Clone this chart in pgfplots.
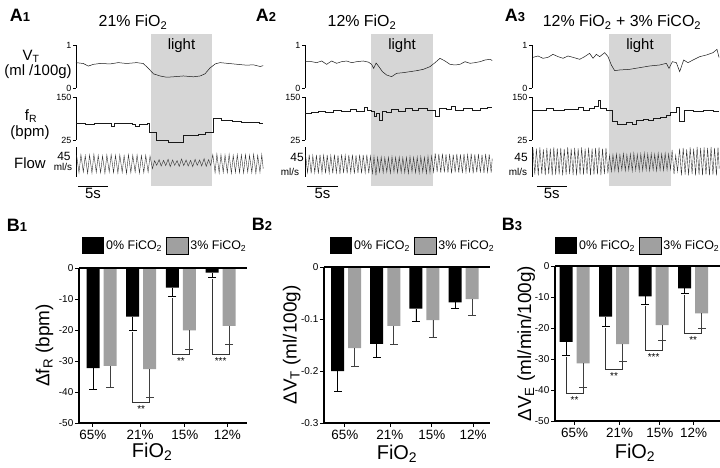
\documentclass[border=0pt]{standalone}
\usepackage{fontspec}
\setmainfont{Liberation Sans}
\usepackage{pgfplots}
\pgfplotsset{compat=1.18}
\definecolor{barg}{RGB}{160,160,160}
\definecolor{lightg}{RGB}{214,214,214}
\newcommand{\fs}[1]{\fontsize{#1}{#1}\selectfont}
\tikzset{brk/.style={line width=0.6bp, black!80}}
\pgfplotsset{
  trace/.style={scale only axis, width=187.2bp, xmin=0, xmax=31.2, enlargelimits=false,
    axis x line=none, axis y line=left, axis line style={-, line width=0.7bp},
    tick style={line width=0.7bp, black}, tick align=outside, major tick length=3bp,
    clip=false, xtick=\empty, tick label style={font=\fs{9}, inner sep=1.5bp}},
  vt/.style={trace, height=43bp, ymin=0, ymax=1, ytick={0,1}, yticklabels={0,1}},
  fr/.style={trace, height=43bp, ymin=25, ymax=150, ytick={25,150}, yticklabels={25,150}},
  flow/.style={trace, height=30bp, ymin=-22.5, ymax=22.5, ytick=\empty},
  tr/.style={black!90, line width=0.5bp, mark=none},
  fl/.style={black!80, line width=0.4bp, mark=none},
  bars/.style={scale only axis, enlargelimits=false, axis lines=left,
    axis line style={-, line width=1.2bp}, tick style={line width=0.9bp, black},
    tick align=outside, major tick length=4bp,
    xticklabels={65\%,21\%,15\%,12\%}, ymax=0, clip=false,
    yticklabel style={font=\fs{10}, inner sep=1.5bp}, xticklabel style={font=\fs{13.5}},
    ylabel style={font=\fs{19}, anchor=center},
    xlabel={FiO\textsubscript{2}}, xlabel style={font=\fs{20}, anchor=center},
    legend columns=2,
    legend style={draw=none, fill=none, inner sep=0pt, font=\fs{12.5}, anchor=south west,
      /tikz/every even column/.append style={column sep=1.5bp}}},
  blk/.style={ybar, bar width=13bp, bar shift=0pt, fill=black, draw=none,
    legend image code/.code={\fill[black] (0bp,-8.5bp) rectangle (22bp,8.5bp);},
    error bars/.cd, y dir=minus, y explicit,
    error bar style={line width=0.7bp, black},
    error mark options={rotate=90, mark size=4bp, line width=0.7bp, black}},
  gry/.style={ybar, bar width=13bp, bar shift=0pt, fill=barg, draw=none,
    legend image code/.code={\draw[fill=barg, draw=black, line width=0.9bp] (0bp,-8.5bp) rectangle (22bp,8.5bp);},
    error bars/.cd, y dir=minus, y explicit,
    error bar style={line width=0.7bp, black!75},
    error mark options={rotate=90, mark size=4bp, line width=0.7bp, black!75}},
}
\begin{document}
\begin{tikzpicture}[x=1bp,y=1bp]
\path[use as bounding box] (0bp,0bp) rectangle (720bp,468bp);

% ---------- titles and labels ----------
\node[font=\fs{18}\bfseries] at (20bp,453bp) {A\fs{13}1};
\node[font=\fs{18}\bfseries] at (266bp,453bp) {A\fs{13}2};
\node[font=\fs{18}\bfseries] at (515bp,453bp) {A\fs{13}3};
\node[font=\fs{18}\bfseries] at (17bp,243bp) {B\fs{13}1};
\node[font=\fs{18}\bfseries] at (262bp,244bp) {B\fs{13}2};
\node[font=\fs{18}\bfseries] at (512bp,244bp) {B\fs{13}3};
\node[font=\fs{16}] at (133bp,446bp) {21\% FiO\textsubscript{2}};
\node[font=\fs{16}] at (362bp,446bp) {12\% FiO\textsubscript{2}};
\node[font=\fs{16}] at (622bp,446bp) {12\% FiO\textsubscript{2} + 3\% FiCO\textsubscript{2}};
\node[font=\fs{15}] at (31bp,412bp) {V\textsubscript{T}};
\node[font=\fs{15}] at (38bp,396bp) {(ml /100g)};
\node[font=\fs{15}] at (31bp,352bp) {f\textsubscript{R}};
\node[font=\fs{15}] at (30bp,335bp) {(bpm)};
\node[font=\fs{15}] at (30bp,305bp) {Flow};
\node[font=\fs{12}] at (64bp,312bp) {45};
\node[font=\fs{10}] at (63bp,301bp) {ml/s};
\node[font=\fs{12}] at (297bp,311bp) {45};
\node[font=\fs{10}] at (290bp,296bp) {ml/s};
\node[font=\fs{12}] at (521bp,311bp) {45};
\node[font=\fs{10}] at (518bp,296bp) {ml/s};

% ================= A1 =================
\begin{axis}[vt, at={(76bp,380bp)}, anchor=south west]
\addplot[fill=lightg, draw=none] coordinates {(12.5,-2.279) (12.5,1.256) (22.67,1.256) (22.67,-2.279)};
\addplot[tr] coordinates {(0,0.59) (1.2,0.57) (2.05,0.51) (2.9,0.55) (4,0.57) (5.7,0.56) (7.05,0.59) (8.45,0.57) (10.1,0.59) (11.2,0.57) (12.05,0.46) (12.9,0.33) (14,0.28) (15.1,0.25) (16.2,0.26) (17.9,0.28) (19.55,0.26) (20.7,0.28) (21.5,0.33) (22.3,0.46) (23.2,0.56) (24,0.59) (26.2,0.56) (28.45,0.53) (29.55,0.54) (30.7,0.50) (31.2,0.52)};
\node[font=\fs{15}] at (axis cs:17.58,0.977) {light};
\end{axis}
\begin{axis}[fr, at={(76bp,328bp)}, anchor=south west]
\addplot[tr, const plot] coordinates {(0,74.4) (1.5,71.5) (3.0,73.5) (4.4,74.4) (5.8,65.7) (6.4,72.4) (7.5,73.5) (9.3,71.5) (9.9,65.7) (10.6,70) (11.8,74.4) (12.2,47.4) (13.4,25) (15.4,18.3) (17.8,39.5) (20.4,42.4) (21.5,46.2) (22.9,88.1) (24.2,83.1) (26.0,80) (27.5,77) (29.0,78) (30.5,74) (31.2,74)};
\end{axis}
\begin{axis}[flow, at={(76bp,291bp)}, anchor=south west]
\addplot[fl] coordinates {(0.10,10) (0.50,-16) (0.82,11) (1.22,-15) (1.54,9.5) (1.94,-17) (2.26,10.5) (2.66,-16.5) (2.98,11.5) (3.38,-15.5) (3.70,10) (4.10,-16) (4.42,9) (4.82,-17) (5.14,10.5) (5.54,-15) (5.86,11) (6.26,-16) (6.58,10) (6.98,-16.5) (7.30,10.5) (7.70,-15.5) (8.02,9.5) (8.42,-17) (8.74,11) (9.14,-16) (9.46,10) (9.86,-15) (10.18,10.5) (10.58,-16.5) (10.90,9.5) (11.30,-16) (11.62,10) (12.02,-15) (12.34,9) (12.74,-10) (13.10,2) (13.45,-5) (13.85,3.5) (14.20,-6) (14.60,2.5) (14.95,-5.5) (15.35,4) (15.70,-7) (16.10,3) (16.45,-5) (16.85,2) (17.20,-6.5) (17.60,4.5) (17.95,-5.5) (18.35,3) (18.70,-6) (19.10,2.5) (19.45,-7) (19.85,4) (20.20,-5) (20.60,3) (20.95,-6) (21.35,5) (21.70,-6.5) (22.10,3.5) (22.45,-5) (22.80,11) (23.18,-16) (23.48,12) (23.86,-16.5) (24.16,11) (24.54,-15.5) (24.84,10.5) (25.22,-16) (25.52,11.5) (25.90,-17) (26.20,10) (26.58,-15.5) (26.88,11) (27.26,-16) (27.56,10.5) (27.94,-16.5) (28.24,11) (28.62,-15) (28.92,10) (29.30,-16) (29.60,11.5) (29.98,-17) (30.28,10) (30.66,-15.5) (30.96,11) (31.20,-10)};
\draw[line width=0.8bp] (axis cs:0.33,-36) -- (axis cs:5.33,-36) node[midway, below, font=\fs{15}, inner sep=2bp] {5s};
\end{axis}

% ================= A2 =================
\begin{axis}[vt, at={(305bp,380bp)}, anchor=south west]
\addplot[fill=lightg, draw=none] coordinates {(11.0,-2.279) (11.0,1.256) (21.33,1.256) (21.33,-2.279)};
\addplot[tr] coordinates {(0,0.612) (1.11,0.612) (1.94,0.589) (2.78,0.628) (3.61,0.55) (4.44,0.628) (5.28,0.574) (6.11,0.612) (6.94,0.628) (7.78,0.589) (8.61,0.612) (9.72,0.628) (10.6,0.6) (11.1,0.55) (11.45,0.457) (11.85,0.58) (12.3,0.5) (12.9,0.38) (13.61,0.302) (14.44,0.264) (15.28,0.341) (16.39,0.357) (17.5,0.38) (18.61,0.403) (19.72,0.434) (20.83,0.496) (21.67,0.589) (22.5,0.69) (23.33,0.628) (24.17,0.55) (25,0.535) (25.83,0.55) (26.67,0.612) (27.5,0.574) (28.33,0.589) (29.17,0.612) (30,0.651) (30.83,0.667) (31.2,0.64)};
\node[font=\fs{15}] at (axis cs:16.17,0.977) {light};
\end{axis}
\begin{axis}[fr, at={(305bp,328bp)}, anchor=south west]
\addplot[tr, const plot] coordinates {(0,102.5) (1.1,104.5) (2.2,109.3) (3.3,106.4) (4.7,112.2) (6.1,109.3) (7.5,114.1) (8.6,109.3) (9.8,120) (10.3,112.2) (11.1,107.4) (11.5,92.8) (11.9,102.5) (12.3,83.1) (12.9,109.3) (13.6,104.5) (14.4,114.1) (15.6,109.3) (16.7,117) (17.8,112.2) (18.9,116) (20.3,112.2) (21.7,92.8) (22.4,117) (23.6,114.1) (24.3,121.9) (25,112.2) (26.4,116) (27.8,112.2) (29.2,117) (30.3,120) (31.2,120)};
\end{axis}
\begin{axis}[flow, at={(305bp,291bp)}, anchor=south west]
\addplot[fl] coordinates {(0.10,10) (0.43,-16) (0.70,11) (1.03,-17) (1.30,9.5) (1.63,-16) (1.90,10.5) (2.23,-17.5) (2.50,11) (2.83,-16) (3.10,10) (3.43,-17) (3.70,10.5) (4.03,-16.5) (4.30,9.5) (4.63,-17) (4.90,11) (5.23,-16) (5.50,10) (5.83,-18) (6.10,11.5) (6.43,-16.5) (6.70,10) (7.03,-17) (7.30,10.5) (7.63,-16) (7.90,11) (8.23,-17.5) (8.50,10) (8.83,-16.5) (9.10,11) (9.43,-17) (9.70,10.5) (10.03,-16) (10.30,11) (10.63,-17) (10.90,9) (11.23,-17) (11.50,8) (11.83,-20) (12.10,7) (12.43,-15) (12.70,7.5) (13.03,-16) (13.30,6.5) (13.63,-15) (13.90,7) (14.23,-16.5) (14.50,8) (14.83,-15) (15.10,7) (15.43,-16) (15.70,7.5) (16.03,-15.5) (16.30,6.5) (16.63,-16) (16.90,7) (17.23,-17) (17.50,8) (17.83,-15) (18.10,7) (18.43,-16) (18.70,7.5) (19.03,-16.5) (19.30,8) (19.63,-15) (19.90,7) (20.23,-17) (20.50,8.5) (20.83,-16) (21.10,9) (21.43,-15) (21.70,13) (22.03,-15) (22.30,12) (22.63,-16) (22.90,12.5) (23.23,-15.5) (23.50,11.5) (23.83,-16) (24.10,12) (24.43,-17) (24.70,11) (25.03,-15.5) (25.30,12) (25.63,-16) (25.90,11.5) (26.23,-16.5) (26.50,12) (26.83,-15) (27.10,11) (27.43,-16) (27.70,12.5) (28.03,-17) (28.30,11.5) (28.63,-15.5) (28.90,12) (29.23,-16) (29.50,11) (29.83,-16.5) (30.10,12) (30.43,-15) (30.70,11.5) (31.03,-16) (31.20,5)};
\draw[line width=0.8bp] (axis cs:0.33,-36) -- (axis cs:5.5,-36) node[midway, below, font=\fs{15}, inner sep=2bp] {5s};
\end{axis}

% ================= A3 =================
\begin{axis}[vt, at={(532bp,380bp)}, anchor=south west]
\addplot[fill=lightg, draw=none] coordinates {(12.83,-2.279) (12.83,1.256) (23.17,1.256) (23.17,-2.279)};
\addplot[tr] coordinates {(0.17,0.713) (1,0.744) (1.83,0.69) (2.67,0.713) (3.5,0.783) (4.33,0.729) (5.17,0.69) (6,0.744) (6.83,0.713) (7.94,0.667) (8.78,0.729) (9.61,0.806) (10.17,0.69) (10.72,0.783) (11.28,0.729) (12.11,0.822) (12.67,0.729) (13.22,0.535) (13.78,0.403) (14.61,0.419) (16.28,0.434) (17.94,0.473) (19.61,0.512) (21.28,0.535) (22.39,0.574) (22.83,0.457) (23.39,0.612) (24.06,0.589) (24.61,0.38) (25.28,0.651) (26,0.589) (26.83,0.651) (27.94,0.729) (29.06,0.767) (30.17,0.822) (30.83,0.899) (31.17,0.713)};
\node[font=\fs{15}] at (axis cs:18,0.977) {light};
\end{axis}
\begin{axis}[fr, at={(532bp,328bp)}, anchor=south west]
\addplot[tr, const plot] coordinates {(0.17,112.2) (2.4,117) (3.5,112.2) (5.4,114.1) (7.7,120) (8.5,112.2) (9.6,117) (10.4,123.8) (11.0,141.3) (11.4,117) (12.4,112.2) (13.4,78.3) (14.2,71.5) (15.7,75.4) (16.7,71.5) (17.4,81.2) (18.5,85.1) (19.3,81.2) (20.2,87) (21.3,90.9) (22.3,97.7) (23.1,104.5) (24.1,120) (24.6,78.3) (25.3,110.3) (26.8,107.4) (28.5,112.2) (30.2,107.4) (31.2,107.4)};
\end{axis}
\begin{axis}[flow, at={(532bp,291bp)}, anchor=south west]
\addplot[fl] coordinates {(0.15,21) (0.47,-19) (0.73,20) (1.05,-20) (1.31,22) (1.63,-18) (1.89,19) (2.21,-19.5) (2.47,21) (2.79,-18) (3.05,20) (3.37,-20) (3.63,22) (3.95,-19) (4.21,20.5) (4.53,-18.5) (4.79,21) (5.11,-20) (5.37,19.5) (5.69,-19) (5.95,22) (6.27,-18) (6.53,20) (6.85,-19.5) (7.11,21) (7.43,-20) (7.69,20.5) (8.01,-18.5) (8.27,22) (8.59,-19) (8.85,20) (9.17,-18) (9.43,21.5) (9.75,-20) (10.01,20) (10.33,-19) (10.59,21) (10.91,-18.5) (11.17,22) (11.49,-19.5) (11.75,20) (12.07,-18) (12.33,21) (12.65,-17) (12.91,10) (13.23,-14) (13.49,11) (13.81,-13) (14.07,12) (14.39,-14) (14.65,11) (14.97,-12) (15.23,12.5) (15.55,-13) (15.81,11) (16.13,-12) (16.39,12) (16.71,-13.5) (16.97,13) (17.29,-12) (17.55,11.5) (17.87,-13) (18.13,12) (18.45,-12.5) (18.71,13) (19.03,-12) (19.29,12) (19.61,-13) (19.87,12.5) (20.19,-12) (20.45,11.5) (20.77,-13) (21.03,13) (21.35,-12) (21.61,12) (21.93,-12.5) (22.19,13) (22.51,-12) (22.77,12) (23.09,-11) (23.35,18) (23.67,-18) (23.95,10) (24.25,-14) (24.60,20) (24.90,-20) (25.20,21) (25.52,-19) (25.78,19) (26.10,-20) (26.36,22) (26.68,-18) (26.94,20) (27.26,-20) (27.52,22.5) (27.84,-19) (28.10,21) (28.42,-20) (28.68,22) (29.00,-19) (29.26,21) (29.58,-20) (29.84,22.5) (30.16,-19) (30.42,21) (30.74,-20) (31.00,22) (31.20,-10)};
\draw[line width=0.8bp] (axis cs:0.8,-36) -- (axis cs:5.8,-36) node[midway, below, font=\fs{15}, inner sep=2bp] {5s};
\end{axis}

% ================= B1 =================
\begin{axis}[bars, at={(79bp,45bp)}, anchor=south west, width=168bp, height=155bp,
  xmin=-0.567, xmax=3.665, ymin=-50, xtick={-0.22,0.97,2.1,3.17},
  ytick={-50,-40,-30,-20,-10,0}, yticklabels={-50,-40,-30,-20,-10,0},
  ylabel={Δf\textsubscript{R} (bpm)},
  ylabel style={at={(axis description cs:-0.205,0.5)}},
  xlabel style={at={(axis description cs:0.435,-0.185)}},
  legend style={at={(axis description cs:0.018,1.084)}}]
\addplot[blk] coordinates {(-0.214,-32.3) -= (0,6.8) (0.786,-15.7) -= (0,4.5) (1.786,-6.3) -= (0,3.0) (2.786,-1.5) -= (0,1.5)};
\addlegendentry{0\% FiCO\textsubscript{2}}
\addplot[gry] coordinates {(0.214,-31.6) -= (0,7.0) (1.214,-32.6) -= (0,9.1) (2.214,-20.1) -= (0,6.1) (3.214,-18.7) -= (0,5.8)};
\addlegendentry{3\% FiCO\textsubscript{2}}
\draw[line width=1.2bp] (rel axis cs:0,1) -- (rel axis cs:1,1);
\draw[brk] (axis cs:0.786,-20.7) |- (axis cs:1.214,-43.2) -- (axis cs:1.214,-41.9);
\draw[brk] (axis cs:1.786,-9.8) |- (axis cs:2.214,-27.7) -- (axis cs:2.214,-26.4);
\draw[brk] (axis cs:2.786,-3.5) |- (axis cs:3.214,-27.7) -- (axis cs:3.214,-24.7);
\node[font=\fs{10}, anchor=north, inner sep=1bp] at (axis cs:1,-44) {**};
\node[font=\fs{10}, anchor=north, inner sep=1bp] at (axis cs:2,-28.5) {**};
\node[font=\fs{10}, anchor=north, inner sep=1bp] at (axis cs:3,-28.5) {***};
\end{axis}

% ================= B2 =================
\begin{axis}[bars, at={(324bp,45bp)}, anchor=south west, width=166bp, height=156bp,
  xmin=-0.561, xmax=3.67, ymin=-0.3, xtick={-0.03,1.12,2.19,3.24},
  ytick={-0.3,-0.2,-0.1,0}, yticklabels={-0.3,-0.2,-0.1,0},
  ylabel={ΔV\textsubscript{T} (ml/100g)},
  ylabel style={at={(axis description cs:-0.195,0.5)}},
  xlabel style={at={(axis description cs:0.44,-0.195)}},
  legend style={at={(axis description cs:0.036,1.077)}}]
\addplot[blk] coordinates {(-0.217,-0.200) -= (0,0.040) (0.783,-0.148) -= (0,0.025) (1.783,-0.080) -= (0,0.024) (2.783,-0.068) -= (0,0.012)};
\addlegendentry{0\% FiCO\textsubscript{2}}
\addplot[gry] coordinates {(0.217,-0.156) -= (0,0.036) (1.217,-0.113) -= (0,0.035) (2.217,-0.102) -= (0,0.033) (3.217,-0.062) -= (0,0.031)};
\addlegendentry{3\% FiCO\textsubscript{2}}
\draw[line width=1.2bp] (rel axis cs:0,1) -- (rel axis cs:1,1);
\end{axis}

% ================= B3 =================
\begin{axis}[bars, at={(555bp,47bp)}, anchor=south west, width=165bp, height=155bp,
  xmin=-0.494, xmax=3.68, ymin=-50, xtick={0,1.14,2.16,3.01},
  ytick={-50,-40,-30,-20,-10,0}, yticklabels={-50,-40,-30,-20,-10,0},
  ylabel={ΔV\textsubscript{E} (ml/min/100g)},
  ylabel style={at={(axis description cs:-0.175,0.5)}},
  xlabel style={at={(axis description cs:0.485,-0.206)}},
  legend style={at={(axis description cs:0.0,1.071)}}]
\addplot[blk] coordinates {(-0.215,-24.5) -= (0,4.2) (0.785,-16.3) -= (0,3.2) (1.785,-9.8) -= (0,2.5) (2.785,-7.2) -= (0,1.6)};
\addlegendentry{0\% FiCO\textsubscript{2}}
\addplot[gry] coordinates {(0.215,-31.4) -= (0,7.6) (1.215,-25.2) -= (0,5.6) (2.215,-19.1) -= (0,4.9) (3.215,-15.3) -= (0,4.8)};
\addlegendentry{3\% FiCO\textsubscript{2}}
\draw[line width=1.2bp] (rel axis cs:0,1) -- (rel axis cs:1,1);
\draw[brk] (axis cs:-0.215,-29.2) |- (axis cs:0.215,-41) -- (axis cs:0.215,-39.3);
\draw[brk] (axis cs:0.785,-20) |- (axis cs:1.215,-33.2) -- (axis cs:1.215,-31.1);
\draw[brk] (axis cs:1.785,-12.8) |- (axis cs:2.215,-27.1) -- (axis cs:2.215,-24.3);
\draw[brk] (axis cs:2.785,-9.3) |- (axis cs:3.215,-21.6) -- (axis cs:3.215,-20.4);
\node[font=\fs{10}, anchor=north, inner sep=1bp] at (axis cs:0,-41.8) {**};
\node[font=\fs{10}, anchor=north, inner sep=1bp] at (axis cs:1,-34) {**};
\node[font=\fs{10}, anchor=north, inner sep=1bp] at (axis cs:2,-27.9) {***};
\node[font=\fs{10}, anchor=north, inner sep=1bp] at (axis cs:3,-22.4) {**};
\end{axis}
\end{tikzpicture}
\end{document}
